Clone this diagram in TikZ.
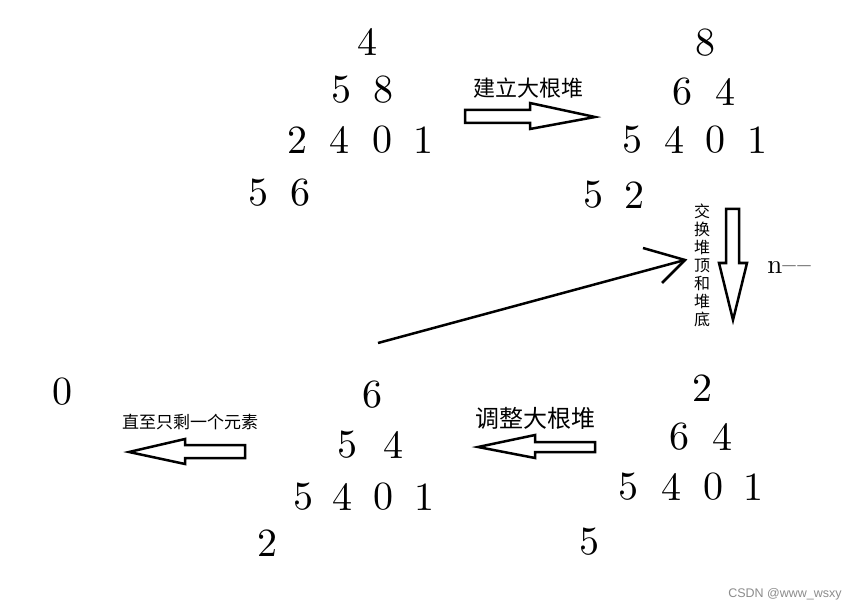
\documentclass[tikz,border=0pt]{standalone}
\usepackage{fontspec}
\newfontfamily\cjk{Noto Sans CJK SC}
\newfontfamily\marksf{Liberation Sans}
\newfontfamily\numfont{lmroman10-regular}[Extension = .otf]
\tikzset{
	digit/.style = {inner sep = 0pt, font = \numfont\fontsize{40}{42}\selectfont},
	blockarrow/.style = {draw, line width = 2.5pt, line join = miter, fill = white},
	note/.style = {inner sep = 0pt, font = \cjk\fontsize{#1}{#1}\selectfont},
}

\begin{document}
\begin{tikzpicture}[x = 1pt, y = -1pt]

	\useasboundingbox [fill = white] (0, 0) rectangle (856, 612);

	% Heap before building
	
	\node [digit] (a0) at (367, 42) {4};
	\node [digit] (a1) at (341, 90) {5};
	\node [digit] (a2) at (383, 90) {8};
	\node [digit] (a3) at (297, 140) {2};
	\node [digit] (a4) at (339, 140) {4};
	\node [digit] (a5) at (382, 140) {0};
	\node [digit] (a6) at (423, 140) {1};
	\node [digit] (a7) at (258, 193) {5};
	\node [digit] (a8) at (300, 193) {6};

	% Max heap
	
	\node [digit] (b0) at (705, 43) {8};
	\node [digit] (b1) at (682, 92) {6};
	\node [digit] (b2) at (725, 92) {4};
	\node [digit] (b3) at (632, 140) {5};
	\node [digit] (b4) at (674, 140) {4};
	\node [digit] (b5) at (715, 140) {0};
	\node [digit] (b6) at (757, 140) {1};
	\node [digit] (b7) at (593, 195) {5};
	\node [digit] (b8) at (634, 195) {2};

	% After swapping top and bottom
	
	\node [digit] (c0) at (702, 388) {2};
	\node [digit] (c1) at (679, 437) {6};
	\node [digit] (c2) at (722, 437) {4};
	\node [digit] (c3) at (628, 487) {5};
	\node [digit] (c4) at (671, 487) {4};
	\node [digit] (c5) at (713, 487) {0};
	\node [digit] (c6) at (753, 487) {1};
	\node [digit] (c7) at (589, 542) {5};

	% Adjusted heap
	
	\node [digit] (d0) at (372, 395) {6};
	\node [digit] (d1) at (347, 445) {5};
	\node [digit] (d2) at (393, 445) {4};
	\node [digit] (d3) at (303, 497) {5};
	\node [digit] (d4) at (342, 497) {4};
	\node [digit] (d5) at (383, 497) {0};
	\node [digit] (d6) at (424, 497) {1};
	\node [digit] (d7) at (267, 543) {2};

	% Last element
	
	\node [digit] (e0) at (62, 392) {0};

	% Block arrows + labels
	
	\draw [blockarrow] (465, 110) -- (530, 110) -- (530, 103) -- (595, 117) -- (530, 129) -- (530, 123) -- (465, 123) -- cycle;
	\node [note = 22] (build) at (528, 88) {建立大根堆};
	
	\draw [blockarrow] (726, 209) -- (739, 209) -- (739, 263) -- (747, 263) -- (733, 320) -- (719, 263) -- (726, 263) -- cycle;
	\node [note = 16, align = center, font = \cjk\fontsize{16}{18}\selectfont] (swap) at (702, 265) {交\\换\\堆\\顶\\和\\堆\\底};
	\node [inner sep = 0pt, font = \numfont\fontsize{27}{28}\selectfont] (dec) at (789, 268) {n\textendash\kern1.5pt\textendash};
	
	\draw [blockarrow] (595, 442) -- (535, 442) -- (535, 435) -- (478, 447) -- (535, 458) -- (535, 452) -- (595, 452) -- cycle;
	\node [note = 24] (adjust) at (535, 418) {调整大根堆};
	
	\draw [blockarrow] (245, 445) -- (185, 445) -- (185, 439) -- (129, 452) -- (185, 464) -- (185, 458) -- (245, 458) -- cycle;
	\node [note = 17] (until) at (190, 422) {直至只剩一个元素};

	% Back to the swap
	
	\coordinate (loopstart) at (378, 343);
	\coordinate (loopend) at (685, 260);
	\draw [line width = 2.5pt] (loopstart) -- (loopend);
	\draw [line width = 2.5pt] (643, 248) -- (loopend) -- (662, 283);

	% Watermark
	
	\node [inner sep = 0pt, text = black!45, font = \marksf\fontsize{12.5}{13}\selectfont] (mark) at (785, 594) {CSDN @www\_wsxy};

\end{tikzpicture}
\end{document}
